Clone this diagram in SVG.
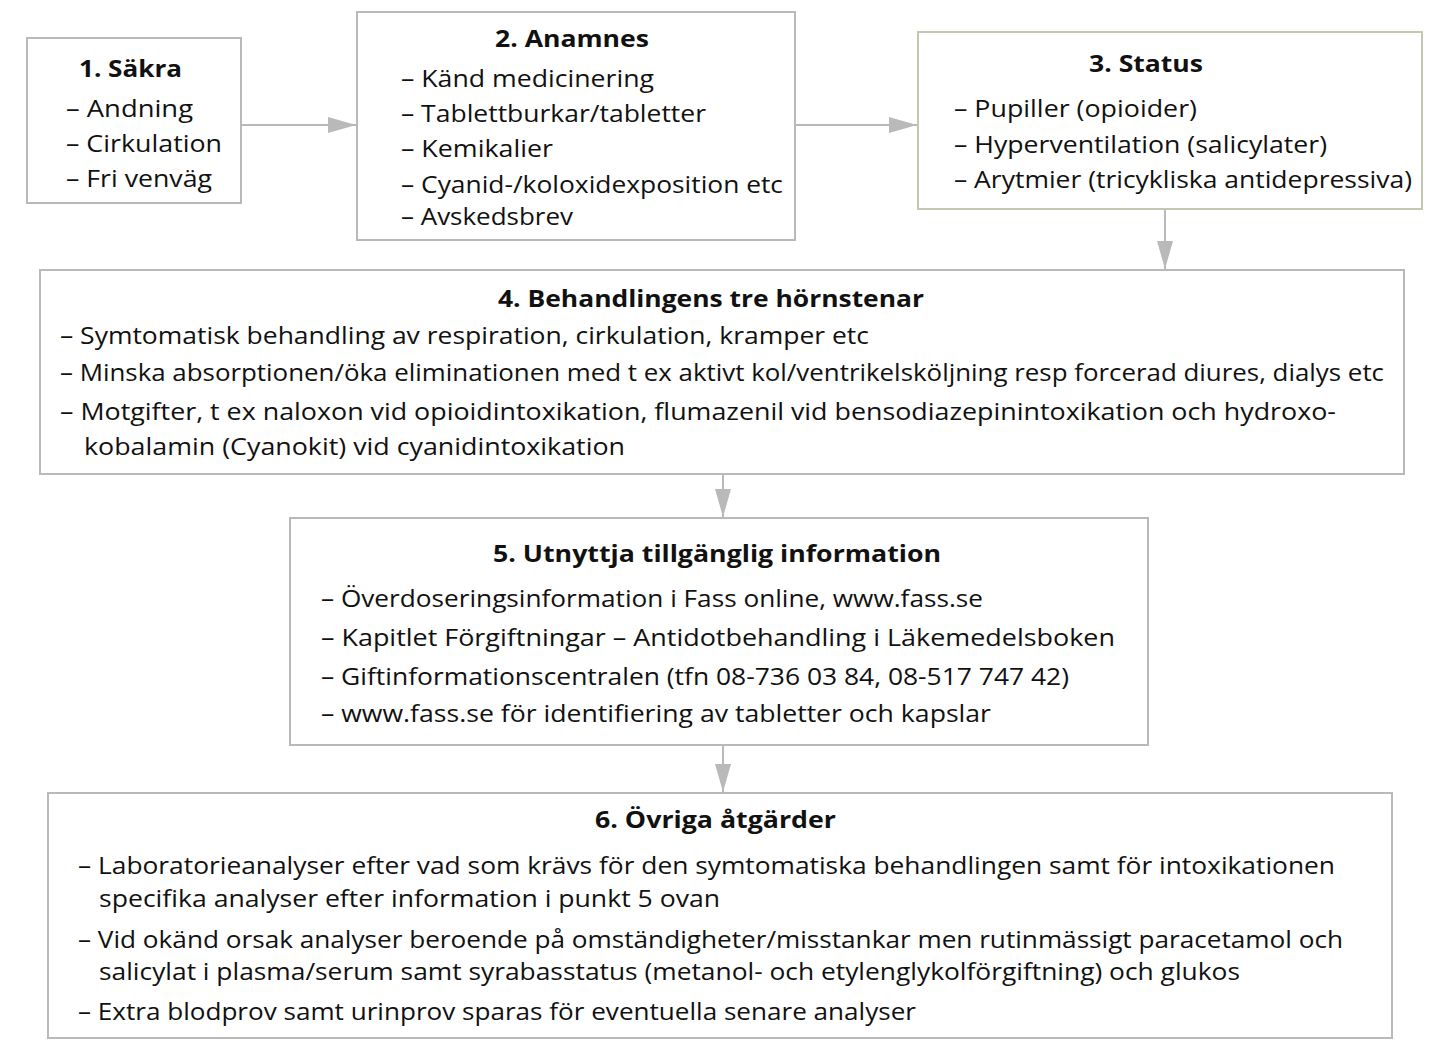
<svg xmlns="http://www.w3.org/2000/svg" width="1447" height="1054" viewBox="0 0 1447 1054">
  <style>
    .box { fill: #ffffff; stroke: #b9b9b9; stroke-width: 2; }
    .box3 { fill: #ffffff; stroke: #c6c6b2; stroke-width: 2; }
    .t { font-family: "Open Sans", "Liberation Sans", sans-serif; font-size: 23px; fill: #111111; }
    .h { font-family: "Open Sans", "Liberation Sans", sans-serif; font-size: 24px; font-weight: bold; fill: #111111; }
    .link { stroke: #b9b9b9; stroke-width: 2; fill: none; }
  </style>
  <defs>
    <marker id="arrow" markerUnits="userSpaceOnUse" markerWidth="30" markerHeight="20" refX="28" refY="8" orient="auto">
      <path d="M0,0 L28,8 L0,16 Z" fill="#b9b9b9"/>
    </marker>
  </defs>

  <rect width="1447" height="1054" fill="#ffffff"/>

  <g id="connectors">
    <line class="link" x1="241" y1="125" x2="356" y2="125" marker-end="url(#arrow)"/>
    <line class="link" x1="795" y1="125" x2="917" y2="125" marker-end="url(#arrow)"/>
    <line class="link" x1="1165" y1="209" x2="1165" y2="269" marker-end="url(#arrow)"/>
    <line class="link" x1="723" y1="474" x2="723" y2="517" marker-end="url(#arrow)"/>
    <line class="link" x1="723" y1="745" x2="723" y2="792" marker-end="url(#arrow)"/>
  </g>

  <g id="node1">
    <rect class="box" x="27" y="38" width="214" height="165"/>
    <text class="h" x="79" y="77" textLength="103" lengthAdjust="spacingAndGlyphs">1. Säkra</text>
    <text class="t" x="66" y="117" textLength="127" lengthAdjust="spacingAndGlyphs">– Andning</text>
    <text class="t" x="66" y="152" textLength="156" lengthAdjust="spacingAndGlyphs">– Cirkulation</text>
    <text class="t" x="66" y="187" textLength="146" lengthAdjust="spacingAndGlyphs">– Fri venväg</text>
  </g>

  <g id="node2">
    <rect class="box" x="357" y="12" width="438" height="228"/>
    <text class="h" x="495" y="47" textLength="154" lengthAdjust="spacingAndGlyphs">2. Anamnes</text>
    <text class="t" x="401" y="87" textLength="253" lengthAdjust="spacingAndGlyphs">– Känd medicinering</text>
    <text class="t" x="401" y="122" textLength="305" lengthAdjust="spacingAndGlyphs">– Tablettburkar/tabletter</text>
    <text class="t" x="401" y="157" textLength="152" lengthAdjust="spacingAndGlyphs">– Kemikalier</text>
    <text class="t" x="401" y="193" textLength="382" lengthAdjust="spacingAndGlyphs">– Cyanid-/koloxidexposition etc</text>
    <text class="t" x="401" y="225" textLength="172" lengthAdjust="spacingAndGlyphs">– Avskedsbrev</text>
  </g>

  <g id="node3">
    <rect class="box3" x="918" y="32" width="504" height="177"/>
    <text class="h" x="1089" y="72" textLength="114" lengthAdjust="spacingAndGlyphs">3. Status</text>
    <text class="t" x="954" y="117" textLength="243" lengthAdjust="spacingAndGlyphs">– Pupiller (opioider)</text>
    <text class="t" x="954" y="153" textLength="373" lengthAdjust="spacingAndGlyphs">– Hyperventilation (salicylater)</text>
    <text class="t" x="954" y="188" textLength="458" lengthAdjust="spacingAndGlyphs">– Arytmier (tricykliska antidepressiva)</text>
  </g>

  <g id="node4">
    <rect class="box" x="40" y="270" width="1364" height="204"/>
    <text class="h" x="498" y="307" textLength="426" lengthAdjust="spacingAndGlyphs">4. Behandlingens tre hörnstenar</text>
    <text class="t" x="60" y="344" textLength="809" lengthAdjust="spacingAndGlyphs">– Symtomatisk behandling av respiration, cirkulation, kramper etc</text>
    <text class="t" x="60" y="381" textLength="1324" lengthAdjust="spacingAndGlyphs">– Minska absorptionen/öka eliminationen med t ex aktivt kol/ventrikelsköljning resp forcerad diures, dialys etc</text>
    <text class="t" x="60" y="420" textLength="1276" lengthAdjust="spacingAndGlyphs">– Motgifter, t ex naloxon vid opioidintoxikation, flumazenil vid bensodiazepinintoxikation och hydroxo-</text>
    <text class="t" x="84" y="455" textLength="541" lengthAdjust="spacingAndGlyphs">kobalamin (Cyanokit) vid cyanidintoxikation</text>
  </g>

  <g id="node5">
    <rect class="box" x="290" y="518" width="858" height="227"/>
    <text class="h" x="493" y="562" textLength="448" lengthAdjust="spacingAndGlyphs">5. Utnyttja tillgänglig information</text>
    <text class="t" x="321" y="607" textLength="662" lengthAdjust="spacingAndGlyphs">– Överdoseringsinformation i Fass online, www.fass.se</text>
    <text class="t" x="321" y="646" textLength="794" lengthAdjust="spacingAndGlyphs">– Kapitlet Förgiftningar – Antidotbehandling i Läkemedelsboken</text>
    <text class="t" x="321" y="685" textLength="748" lengthAdjust="spacingAndGlyphs">– Giftinformationscentralen (tfn 08-736 03 84, 08-517 747 42)</text>
    <text class="t" x="321" y="722" textLength="670" lengthAdjust="spacingAndGlyphs">– www.fass.se för identifiering av tabletter och kapslar</text>
  </g>

  <g id="node6">
    <rect class="box" x="48" y="793" width="1344" height="245"/>
    <text class="h" x="595" y="828" textLength="241" lengthAdjust="spacingAndGlyphs">6. Övriga åtgärder</text>
    <text class="t" x="78" y="874" textLength="1257" lengthAdjust="spacingAndGlyphs">– Laboratorieanalyser efter vad som krävs för den symtomatiska behandlingen samt för intoxikationen</text>
    <text class="t" x="99" y="907" textLength="621" lengthAdjust="spacingAndGlyphs">specifika analyser efter information i punkt 5 ovan</text>
    <text class="t" x="78" y="948" textLength="1265" lengthAdjust="spacingAndGlyphs">– Vid okänd orsak analyser beroende på omständigheter/misstankar men rutinmässigt paracetamol och</text>
    <text class="t" x="99" y="980" textLength="1141" lengthAdjust="spacingAndGlyphs">salicylat i plasma/serum samt syrabasstatus (metanol- och etylenglykolförgiftning) och glukos</text>
    <text class="t" x="78" y="1020" textLength="838" lengthAdjust="spacingAndGlyphs">– Extra blodprov samt urinprov sparas för eventuella senare analyser</text>
  </g>
</svg>
